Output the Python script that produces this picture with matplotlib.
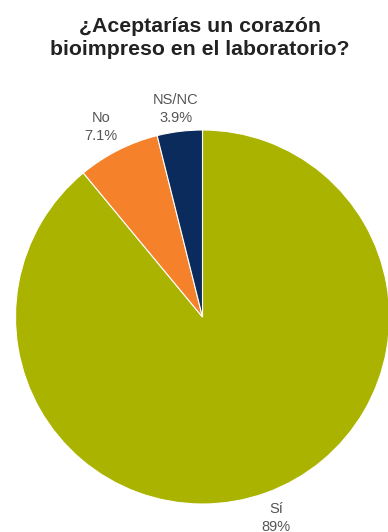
import matplotlib.pyplot as plt

# Respuestas de la encuesta (porcentaje)
categorias = ["Sí", "No", "NS/NC"]
valores = [89.0, 7.1, 3.9]
etiquetas = ["Sí\n89%", "No\n7.1%", "NS/NC\n3.9%"]
colores = ["#aab300", "#f5822a", "#0b2b5c"]

plt.rcParams['font.family'] = ['Liberation Sans', 'DejaVu Sans']

W, H = 388, 532
fig = plt.figure(figsize=(W / 100, H / 100), dpi=100)

# centro y radio del pastel en pixeles
cx, cy, r = 202.5, 317, 187
ax = fig.add_axes([(cx - r) / W, (H - cy - r) / H, 2 * r / W, 2 * r / H])
ax.pie(valores, colors=colores, startangle=90, counterclock=False,
       wedgeprops=dict(edgecolor='white', linewidth=0.8), radius=1)
ax.set_xlim(-1, 1)
ax.set_ylim(-1, 1)
ax.set_aspect('equal')
ax.axis('off')

# etiquetas fuera del pastel
posiciones = [(276, 518), (101, 127), (176, 109)]
for texto, (px, py) in zip(etiquetas, posiciones):
    fig.text(px / W, 1 - py / H, texto, ha='center', va='center',
             fontsize=10.5, color='#555555', linespacing=1.3)

fig.text(200 / W, 1 - 38 / H, "¿Aceptarías un corazón\nbioimpreso en el laboratorio?",
         ha='center', va='center', fontsize=15.3, fontweight='bold',
         color='#222222', linespacing=1.25)

fig.savefig("out.png", dpi=100)
